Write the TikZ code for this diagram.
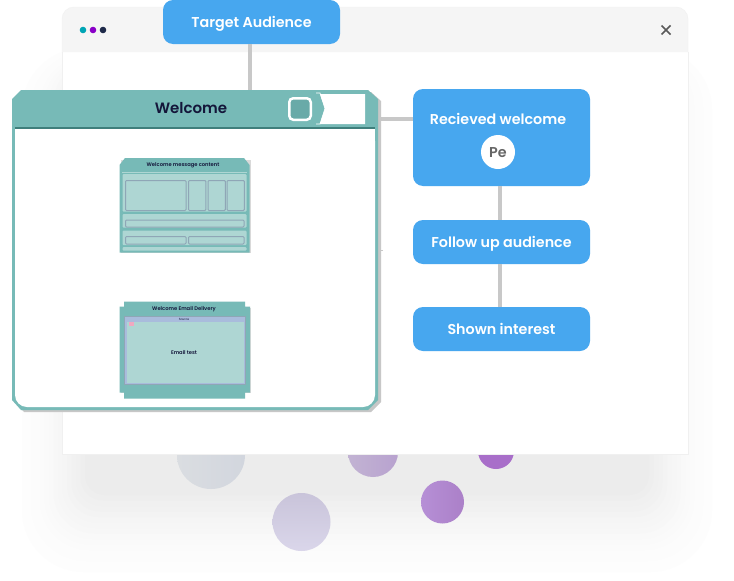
\documentclass[tikz,border=0pt]{standalone}
\usepackage{fontspec}
\setmainfont{Poppins}[BoldFont={Poppins SemiBold}]
\definecolor{stepblue}{HTML}{47A7EF}
\definecolor{cardteal}{HTML}{77BAB7}
\definecolor{cardpale}{HTML}{AED6D3}
\definecolor{cardedge}{HTML}{8FA6B6}
\definecolor{carddark}{HTML}{3F7F7C}
\definecolor{togglefill}{HTML}{69AAA8}
\definecolor{linegray}{HTML}{C8C8C8}
\definecolor{inkblue}{HTML}{14163A}
\definecolor{dotteal}{HTML}{00A5B5}
\definecolor{dotpurple}{HTML}{8A00C8}
\definecolor{dotnavy}{HTML}{1F2A4A}
\definecolor{sourceblue}{HTML}{A9BCDC}
\definecolor{markpink}{HTML}{F0A8C0}
\definecolor{ballAl}{HTML}{DADDE1}
\definecolor{ballAr}{HTML}{D2D6DE}
\definecolor{ballBl}{HTML}{C2B3D3}
\definecolor{ballBr}{HTML}{B8A2CF}
\definecolor{ballC}{HTML}{A86EC9}
\definecolor{ballDl}{HTML}{B68FD6}
\definecolor{ballDr}{HTML}{AB80C8}
\definecolor{ballEt}{HTML}{C9C4DA}
\definecolor{ballEb}{HTML}{DAD6EA}
\tikzset{
	steptext/.style={inner sep=0pt,text height=10pt,text depth=0pt,font=\fontsize{14.3}{16}\selectfont\bfseries},
	stepbox/.style={steptext,fill=stepblue,rounded corners=10pt,minimum width=177pt,text=white},
	linkline/.style={linegray,line width=4pt},
	cardtitle/.style={text=inkblue,inner sep=0pt,font=\fontsize{5.2}{6}\selectfont\bfseries},
	palebox/.style={fill=cardpale},
	subbox/.style={fill=cardpale,draw=cardedge,line width=1pt,rounded corners=1pt},
	bigcard/.pic={\fill[pic actions] (12,99) -- (21,90) -- (368,90) -- (378,99) -- (378,400) -- (368,410) -- (21,410) -- (12,400) -- cycle;},
}
\begin{document}
\begin{tikzpicture}[x=1pt,y=-1pt]
	\useasboundingbox (0,0) rectangle (734,581);
	\fill[white] (0,0) rectangle (734,581);

	% soft shadow behind the window
	\foreach \i in {0,...,14}{
		\pgfmathsetmacro{\tone}{0.6+(\i^1.5)*0.13}
		\pgfmathsetmacro{\rad}{62-\i*3}
		\fill[black!\tone!white,rounded corners=\rad pt] (22+\i*4.5,48+\i*2) rectangle (712-\i*4.5,572-\i*5.5);
	}

	% circles, half hidden by the window
	\shade[left color=ballAl,right color=ballAr] (211,455) circle (34);
	\shade[left color=ballBl,right color=ballBr] (373,452) circle (25);
	\fill[ballC] (496,451) circle (18);
	\shade[left color=ballDl,right color=ballDr] (442.5,502) circle (21.5);
	\shade[top color=ballEt,bottom color=ballEb] (301.5,522) circle (29);

	% window
	\fill[white] (62,52) rectangle (688,454);
	\path[fill=black!4,draw=black!6,rounded corners=12pt] (62,52) -- (62,7) -- (688,7) -- (688,52);
	\draw[black!6] (62,52) -- (62,454) -- (688,454) -- (688,52);
	\fill[dotteal] (83,30) circle (3.3);
	\fill[dotpurple] (93,30) circle (3.3);
	\fill[dotnavy] (103,30) circle (3.3);
	\draw[black!65,line width=1.5pt] (661.5,25.5) -- (670.5,34.5) (661.5,34.5) -- (670.5,25.5);

	% steps
	\node[stepbox,minimum height=44pt] (target) at (251.5,22) {Target Audience};
	\node[stepbox,minimum height=97pt] (recieved) at (501.5,137.5) {};
	\node[steptext,text=white] (recievedtext) at (498,119) {Recieved welcome};
	\node[steptext,circle,fill=white,minimum size=34pt,text=black!60] (pe) at (498,152) {Pe};
	\node[stepbox,minimum height=44pt] (follow) at (501.5,242) {Follow up audience};
	\node[stepbox,minimum height=44pt] (shown) at (501.5,329) {Shown interest};

	% links
	\coordinate (targetend) at (250,95);
	\coordinate (recievedin) at (413,119);
	\coordinate (hairin) at (383,250);
	\coordinate (followtop) at (500,220);
	\coordinate (showntop) at (500,307);
	\draw[linkline] (targetend |- target.south) -- (targetend);
	\draw[linkline] (recievedin) -- (370,119);
	\draw[linkline] (followtop |- recieved.south) -- (followtop);
	\draw[linkline] (showntop |- follow.south) -- (showntop);
	\draw[linegray,line width=0.5pt] (hairin) -- (370,250);

	% welcome card
	\pic[black!22] at (3,2) {bigcard};
	\pic[cardteal] at (0,0) {bigcard};
	\fill[white,rounded corners=12pt] (15,129) -- (15,407) -- (375,407) -- (375,129) -- cycle;
	\fill[white] (15,129) rectangle (375,150);
	\fill[carddark] (15,127) rectangle (375,129);
	\node[text=inkblue,inner sep=0pt,font=\fontsize{15}{17}\selectfont\bfseries] (welcometitle) at (191,108.5) {Welcome};
	\node[fill=togglefill,draw=white,line width=2.5pt,rounded corners=4pt,minimum width=21.5pt,minimum height=21.5pt,inner sep=0pt] (toggle) at (300,109) {};
	\fill[white] (320,94) -- (325,108.5) -- (320,124) -- (365,124) -- (365,94) -- cycle;
	\draw[white,line width=0.7pt] (316,93) -- (320,93) -- (325,108.5) -- (320,124) -- (316,124);

	% message content
	\fill[black!15] (121,160) rectangle (250.5,253);
	\fill[cardteal] (119.5,165) -- (125,158) -- (244,158) -- (249.5,165) -- (249.5,252.5) -- (119.5,252.5) -- cycle;
	\node[cardtitle] (messagetitle) at (183,165) {Welcome message content};
	\draw[cardpale,line width=0.5pt] (122,172) -- (247,172);
	\fill[palebox,rounded corners=1pt] (122.5,174) rectangle (246.5,211.5);
	\fill[palebox,rounded corners=1pt] (122.5,214) rectangle (246.5,227.5);
	\fill[palebox,rounded corners=1pt] (122.5,230.5) rectangle (246.5,245);
	\fill[palebox,rounded corners=1pt] (122.5,247) rectangle (246.5,250.5);
	\draw[subbox] (125.5,180.5) rectangle (186,210.5);
	\foreach \bx in {188.5,208,227}{
		\draw[subbox] (\bx,180.5) rectangle (\bx+17.3,210.5);
	}
	\draw[subbox] (125.5,220) rectangle (244,227);
	\draw[subbox] (125.5,236.5) rectangle (186,244);
	\draw[subbox] (188.5,236.5) rectangle (244,244);

	% email delivery
	\fill[black!15] (121,308) rectangle (251,393);
	\fill[cardteal] (124,301.5) -- (245,301.5) -- (245,306.5) -- (250,306.5) -- (250,392.5) -- (245,392.5) -- (245,398.5) -- (124,398.5) -- (124,392.5) -- (119.5,392.5) -- (119.5,306.5) -- (124,306.5) -- cycle;
	\node[cardtitle] (deliverytitle) at (184,309) {Welcome Email Delivery};
	\fill[sourceblue,draw=cardedge,line width=0.7pt] (124.5,316.5) rectangle (245.5,384);
	\fill[palebox] (126.5,322) rectangle (243.5,383);
	\fill[markpink] (128.5,322) rectangle (134,326);
	\node[text=inkblue,inner sep=0pt,font=\fontsize{3}{3}\selectfont] (sourcelabel) at (184,319) {Source};
	\node[cardtitle] (emailtest) at (184,352) {Email test};
\end{tikzpicture}
\end{document}
